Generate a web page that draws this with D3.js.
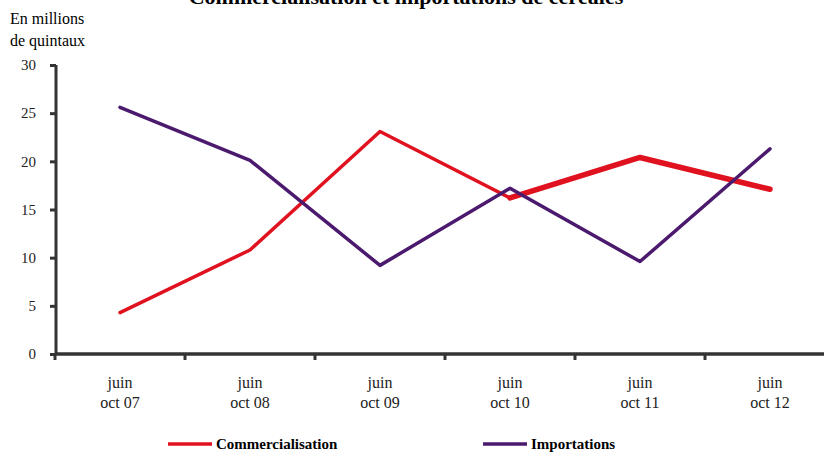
<!DOCTYPE html>
<html>
<head>
<meta charset="utf-8">
<script src="https://cdn.jsdelivr.net/npm/d3@7"></script>
<style>
  body { margin: 0; background: #fff; }
</style>
</head>
<body>
<svg width="824" height="453"></svg>
<script>
// data
var periods = ["oct 07", "oct 08", "oct 09", "oct 10", "oct 11", "oct 12"];
var commercialisation = [4.3, 10.8, 23.1, 16.2, 20.4, 17.1];
var importations = [25.6, 20.1, 9.2, 17.2, 9.6, 21.3];
var yTicks = [0, 5, 10, 15, 20, 25, 30];

var font = "'Liberation Serif', 'Times New Roman', serif";
var svg = d3.select("svg").style("font-family", font);

var x = d3.scaleBand().domain(periods).range([55, 835]);
var y = d3.scaleLinear().domain([0, 30]).range([354, 65]);

// title (cut at top like the original)
svg.append("text")
  .attr("x", 406).attr("y", 4)
  .attr("text-anchor", "middle")
  .style("font-family", font)
  .style("font-size", "22px").style("font-weight", "bold")
  .text("Commercialisation et importations de céréales");

// unit label
svg.append("text").attr("x", 10).attr("y", 24).style("font-family", font).style("font-size", "16px").text("En millions");
svg.append("text").attr("x", 10).attr("y", 46).style("font-family", font).style("font-size", "16px").text("de quintaux");

// y axis
var yAxis = svg.append("g")
  .attr("transform", "translate(56,0)")
  .call(d3.axisLeft(y).tickValues(yTicks).tickSize(6).tickPadding(14));
yAxis.attr("font-family", font);
yAxis.select(".domain").attr("d", "M0," + y(30) + "V" + y(0)).attr("stroke", "#333").attr("stroke-width", 3);
yAxis.selectAll(".tick line").attr("stroke", "#333").attr("stroke-width", 3);
yAxis.selectAll(".tick text").style("font-family", font).style("font-size", "15px").attr("fill", "#222");

// x axis
var xAxis = svg.append("g")
  .attr("transform", "translate(0," + y(0) + ")");
xAxis.append("line")
  .attr("x1", 55).attr("x2", 824)
  .attr("stroke", "#333").attr("stroke-width", 3.5);
xAxis.selectAll("line.tk")
  .data(periods)
  .enter().append("line")
  .attr("class", "tk")
  .attr("x1", function(d) { return x(d); })
  .attr("x2", function(d) { return x(d); })
  .attr("y1", 0).attr("y2", 6)
  .attr("stroke", "#333").attr("stroke-width", 3);
var lbl = xAxis.selectAll("text.lbl")
  .data(periods)
  .enter().append("text")
  .attr("class", "lbl")
  .attr("text-anchor", "middle")
  .attr("fill", "#222")
  .style("font-family", font)
  .style("font-size", "16px");
lbl.append("tspan")
  .attr("x", function(d) { return x(d) + x.bandwidth() / 2; })
  .attr("y", 34).text("juin");
lbl.append("tspan")
  .attr("x", function(d) { return x(d) + x.bandwidth() / 2; })
  .attr("y", 54).text(function(d) { return d; });

// lines
var cx = function(i) { return x(periods[i]) + x.bandwidth() / 2; };
var line = d3.line()
  .x(function(d, i) { return cx(i); })
  .y(function(d) { return y(d); });

svg.append("path")
  .datum(commercialisation)
  .attr("d", line)
  .attr("fill", "none")
  .attr("stroke", "#e0121f")
  .attr("stroke-width", 3.5)
  .attr("stroke-linejoin", "round")
  .attr("stroke-linecap", "round");

// the last red segments are drawn heavier in the original
svg.append("path")
  .datum(commercialisation.slice(3))
  .attr("d", d3.line().x(function(d, i) { return cx(i + 3); }).y(function(d) { return y(d); }))
  .attr("fill", "none")
  .attr("stroke", "#e0121f")
  .attr("stroke-width", 5.5)
  .attr("stroke-linejoin", "round")
  .attr("stroke-linecap", "round");

svg.append("path")
  .datum(importations)
  .attr("d", line)
  .attr("fill", "none")
  .attr("stroke", "#4b1a6e")
  .attr("stroke-width", 3.5)
  .attr("stroke-linejoin", "round")
  .attr("stroke-linecap", "round");

// legend
var legend = [
  { name: "Commercialisation", color: "#e0121f", x: 168 },
  { name: "Importations", color: "#4b1a6e", x: 483 }
];
var lg = svg.selectAll("g.legend")
  .data(legend)
  .enter().append("g")
  .attr("class", "legend")
  .attr("transform", function(d) { return "translate(" + d.x + ",444)"; });
lg.append("line")
  .attr("x1", 0).attr("x2", 44)
  .attr("stroke", function(d) { return d.color; })
  .attr("stroke-width", 3.5);
lg.append("text")
  .attr("x", 48).attr("y", 5)
  .style("font-family", font)
  .style("font-size", "15px").style("font-weight", "bold")
  .text(function(d) { return d.name; });
</script>
</body>
</html>
